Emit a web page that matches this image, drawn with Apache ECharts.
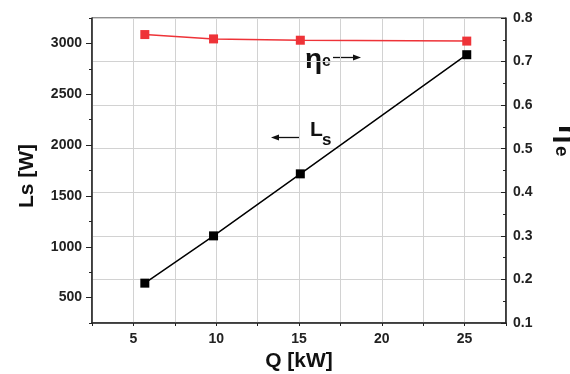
<!DOCTYPE html>
<html>
<head>
<meta charset="utf-8">
<script src="https://cdn.jsdelivr.net/npm/echarts@6/dist/echarts.min.js"></script>
<style>
  html, body { margin: 0; padding: 0; background: #fff; }
  #chart { width: 570px; height: 374px; }
</style>
</head>
<body>
<div id="chart"></div>
<script>
// Heat load Q [kW] at the four operating points
const qValues = [5.69, 9.84, 15.08, 25.13];
// Ls [W] (left axis, black squares)
const lsValues = [642, 1107, 1717, 2889];
// efficiency eta_e (right axis, red squares)
const etaValues = [0.762, 0.752, 0.749, 0.747];
// labelled ticks on the Ls axis
const leftMajorTicks = [500, 1000, 1500, 2000, 2500, 3000];

const FONT = '"Liberation Sans", Arial, sans-serif';
const AXIS_COLOR = '#222';
const GRID_COLOR = '#d2d2d2';
const TEXT_COLOR = '#111';

const chart = echarts.init(document.getElementById('chart'), null, { renderer: 'canvas' });

const labelStyle = { fontFamily: FONT, fontWeight: 'bold', fontSize: 14, color: AXIS_COLOR };

function boldText(x, y, text, size, opts) {
  opts = opts || {};
  return {
    type: 'text', x: x, y: y, rotation: opts.rotation || 0,
    style: {
      text: text, fontFamily: FONT, fontWeight: 'bold', fontSize: size,
      fill: TEXT_COLOR, align: opts.align || 'left', verticalAlign: 'middle'
    }
  };
}

chart.setOption({
  animation: false,
  backgroundColor: '#fff',
  grid: {
    left: 92, right: 64, top: 18, bottom: 51,
    show: true, borderColor: AXIS_COLOR, borderWidth: 1
  },
  xAxis: {
    type: 'value',
    min: 2.5, max: 27.5, interval: 2.5,
    axisLine: { show: true, onZero: false, lineStyle: { color: AXIS_COLOR, width: 1.5 } },
    axisTick: { show: true, length: 3, lineStyle: { color: AXIS_COLOR } },
    splitLine: { show: true, lineStyle: { color: GRID_COLOR, width: 1 } },
    axisLabel: Object.assign({
      margin: 9,
      formatter: v => (Math.abs(v % 5) < 1e-9 ? String(v) : '')
    }, labelStyle)
  },
  yAxis: [
    {
      // Ls [W]
      type: 'value', position: 'left',
      min: 250, max: 3250, interval: 250,
      axisLine: { show: true, onZero: false, lineStyle: { color: AXIS_COLOR, width: 1.5 } },
      axisTick: { show: true, length: 3, lineStyle: { color: AXIS_COLOR } },
      splitLine: { show: false },
      axisLabel: Object.assign({
        margin: 10,
        formatter: v => (v % 500 === 0 ? String(v) : '')
      }, labelStyle)
    },
    {
      // eta_e
      type: 'value', position: 'right',
      min: 0.1, max: 0.8, interval: 0.1,
      axisLine: { show: true, onZero: false, lineStyle: { color: AXIS_COLOR, width: 1.5 } },
      axisTick: { show: true, inside: true, length: 5, lineStyle: { color: AXIS_COLOR } },
      minorTick: { show: true, splitNumber: 2, length: 3, lineStyle: { color: AXIS_COLOR } },
      splitLine: { show: true, lineStyle: { color: GRID_COLOR, width: 1 } },
      axisLabel: Object.assign({
        margin: 7,
        formatter: v => v.toFixed(1)
      }, labelStyle)
    },
    {
      // longer ticks at the labelled Ls values
      type: 'value', position: 'left',
      min: 250, max: 3250,
      axisLine: { show: false },
      axisTick: { show: true, length: 6, customValues: leftMajorTicks, lineStyle: { color: AXIS_COLOR } },
      axisLabel: { show: false },
      splitLine: { show: false }
    }
  ],
  series: [
    {
      name: 'Ls',
      type: 'line',
      yAxisIndex: 0,
      data: qValues.map((q, i) => [q, lsValues[i]]),
      symbol: 'rect', symbolSize: 9,
      itemStyle: { color: '#000' },
      lineStyle: { color: '#000', width: 1.5 },
      z: 3
    },
    {
      name: 'eta',
      type: 'line',
      yAxisIndex: 1,
      data: qValues.map((q, i) => [q, etaValues[i]]),
      symbol: 'rect', symbolSize: 9,
      itemStyle: { color: '#ee3338' },
      lineStyle: { color: '#ee3338', width: 1.5 },
      z: 3
    }
  ],
  graphic: [
    // axis titles
    boldText(27, 176, 'Ls [W]', 21, { rotation: Math.PI / 2, align: 'center' }),
    boldText(299, 361, 'Q [kW]', 21, { align: 'center' }),
    // right title, running downwards and partly past the edge
    boldText(567, 125, 'η', 30, { rotation: -Math.PI / 2 }),
    boldText(561, 146, 'e', 19, { rotation: -Math.PI / 2 }),
    // curve annotations
    boldText(305, 60, 'η', 28),
    boldText(322, 62, 'e', 16),
    { type: 'line', shape: { x1: 333, y1: 57.5, x2: 356, y2: 57.5 }, style: { stroke: TEXT_COLOR, lineWidth: 1.3 } },
    { type: 'polygon', shape: { points: [[361, 57.5], [353, 54.5], [353, 60.5]] }, style: { fill: TEXT_COLOR } },
    { type: 'line', shape: { x1: 276, y1: 137.5, x2: 300, y2: 137.5 }, style: { stroke: TEXT_COLOR, lineWidth: 1.3 } },
    { type: 'polygon', shape: { points: [[271, 137.5], [279, 134.5], [279, 140.5]] }, style: { fill: TEXT_COLOR } },
    boldText(310, 130, 'L', 21),
    boldText(322, 140, 's', 17)
  ]
});
</script>
</body>
</html>
